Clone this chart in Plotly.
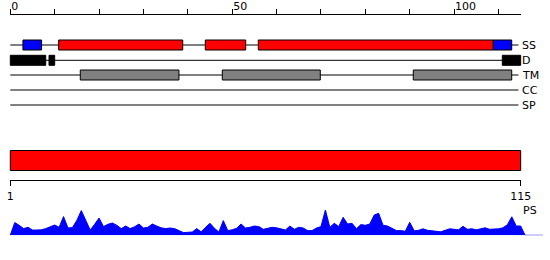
import plotly.graph_objects as go

# ---------------- data ----------------
seq_len = 115
track_names = ["SS", "D", "TM", "CC", "SP"]

ss_starts = [2.85, 10.9, 43.94, 55.88, 108.83]
ss_ends = [7.05, 38.85, 53.04, 108.83, 112.98]
ss_types = ["E", "H", "H", "H", "E"]

d_starts = [0.0, 8.72, 110.86]
d_ends = [7.98, 10.0, 115.0]

tm_starts = [15.77, 47.77, 90.8]
tm_ends = [38.0, 69.85, 112.98]

ruler_ticks = [0, 10, 20, 30, 40, 50, 60, 70, 80, 90, 100, 110]
ruler_labels = ["0", "", "", "", "", "50", "", "", "", "", "100", ""]
seq_ticks = [0, 115]
seq_labels = ["1", "115"]

ps_pos = list(range(0, 121))
ps_vals = [0,
           12.7, 10, 6.7, 8, 5.3, 5.3, 5.5, 6.7, 8.5, 10.3,
           8, 18.7, 7.3, 7.7, 15, 24.7, 15, 5.3, 11, 17.3,
           8.7, 11, 12.3, 10, 6.7, 9.3, 6.7, 8.5, 11.3, 7.3,
           8, 11.3, 9.3, 7.5, 6.7, 7.3, 6.7, 5, 2.7, 3,
           3.3, 6.7, 3.5, 8, 12, 7, 3.3, 14.7, 4.7, 5.5,
           7, 11.3, 7.3, 8, 9.3, 8.7, 6, 7, 8, 7.5,
           6.5, 5.3, 9.3, 6, 8, 7.3, 4.7, 4.7, 7.3, 8.7,
           25.3, 8, 12, 8.7, 18, 11.3, 12, 6.7, 10.7, 10,
           11.3, 20.3, 22, 10, 9.3, 6.7, 4.7, 4.7, 4, 13,
           4.5, 5, 6.5, 5, 4.5, 4.5, 3.5, 5, 6.5, 6,
           5.5, 9, 6, 6.5, 5.5, 6.5, 7.5, 6, 6, 6.5,
           7.5, 10.5, 18.5, 9.3, 9.3,
           0, 0, 0, 0, 0]

# ---------------- layout constants ----------------
W, H = 550, 260
X0PX = 10.3
PXU = 4.438
xr = [-X0PX / PXU, (W - X0PX) / PXU]
track_y = {"SS": 45, "D": 60.3, "TM": 75, "CC": 90, "SP": 105}
box_h = 5
line_end = seq_len - 0.5
ss_color = {"H": "#ff0000", "E": "#0000ff"}
FONT = "DejaVu Sans"

fig = go.Figure()

# PS profile
fig.add_trace(go.Scatter(x=ps_pos, y=ps_vals, mode="lines", fill="tozeroy",
                         fillcolor="#0000ff", line=dict(color="#0000ff", width=1),
                         xaxis="x", yaxis="y4", hoverinfo="skip", showlegend=False))
# dummy traces so extra axes render
fig.add_trace(go.Scatter(x=[None], y=[None], xaxis="x2", yaxis="y2", showlegend=False))
fig.add_trace(go.Scatter(x=[None], y=[None], xaxis="x3", yaxis="y3", showlegend=False))

shapes = []
for name in track_names:
    shapes.append(dict(type="line", xref="x", yref="y", x0=0, x1=line_end,
                       y0=track_y[name], y1=track_y[name],
                       line=dict(color="black", width=1)))

def boxes(starts, ends, colors, yc):
    for s, e, c in zip(starts, ends, colors):
        shapes.append(dict(type="rect", xref="x", yref="y", x0=s, x1=e,
                           y0=yc - box_h, y1=yc + box_h, fillcolor=c,
                           line=dict(color="black", width=1)))

boxes(ss_starts, ss_ends, [ss_color[t] for t in ss_types], track_y["SS"])
boxes(d_starts, d_ends, ["black"] * len(d_starts), track_y["D"])
boxes(tm_starts, tm_ends, ["#808080"] * len(tm_starts), track_y["TM"])

shapes.append(dict(type="rect", xref="x", yref="y", x0=0, x1=seq_len,
                   y0=150.5, y1=170.5, fillcolor="#ff0000",
                   line=dict(color="black", width=1)))

annotations = []
for name in track_names:
    annotations.append(dict(x=seq_len, y=track_y[name], xref="x", yref="y",
                            text=name, showarrow=False, xanchor="left",
                            yanchor="middle", xshift=-1,
                            font=dict(family=FONT, size=11, color="black")))
annotations.append(dict(x=seq_len, y=210.5, xref="x", yref="y", text="PS",
                        showarrow=False, xanchor="left", yanchor="middle",
                        xshift=0, font=dict(family=FONT, size=11, color="black")))

dom_l = X0PX / W
dom_r = (X0PX + PXU * seq_len) / W

fig.update_layout(
    width=W, height=H,
    margin=dict(l=0, r=0, t=0, b=0, pad=0, autoexpand=False),
    paper_bgcolor="white", plot_bgcolor="rgba(0,0,0,0)",
    showlegend=False,
    font=dict(family=FONT, size=11, color="black"),
    xaxis=dict(domain=[0, 1], range=xr, visible=False, anchor="y",
               fixedrange=True, automargin=False),
    yaxis=dict(domain=[0, 1], range=[H, 0], visible=False, anchor="x",
               fixedrange=True, automargin=False),
    xaxis2=dict(domain=[dom_l, dom_r], range=[0, seq_len], anchor="y2", side="top",
                showline=True, linecolor="black", linewidth=1, ticks="outside",
                ticklen=5, tickcolor="black", tickwidth=1, tickvals=ruler_ticks,
                ticktext=ruler_labels, ticklabelposition="outside right",
                showgrid=False, zeroline=False, automargin=False,
                tickfont=dict(family=FONT, size=11, color="black")),
    yaxis2=dict(domain=[0, 1 - 15 / H], range=[0, 1], visible=False, anchor="x2",
                automargin=False),
    xaxis3=dict(domain=[dom_l, dom_r], range=[0, seq_len], anchor="y3", side="bottom",
                showline=True, linecolor="black", linewidth=1, ticks="outside",
                ticklen=5, tickcolor="black", tickwidth=1, tickvals=seq_ticks,
                ticktext=seq_labels, showgrid=False, zeroline=False, automargin=False,
                tickfont=dict(family=FONT, size=11, color="black")),
    yaxis3=dict(domain=[1 - 180.3 / H, 1], range=[0, 1], visible=False, anchor="x3",
                automargin=False),
    yaxis4=dict(domain=[(H - 235.3) / H, 1], range=[0, 235.3], visible=False,
                anchor="x", fixedrange=True, automargin=False),
    shapes=shapes,
    annotations=annotations,
)

fig.write_html("out.html", config={"displayModeBar": False, "staticPlot": True})
